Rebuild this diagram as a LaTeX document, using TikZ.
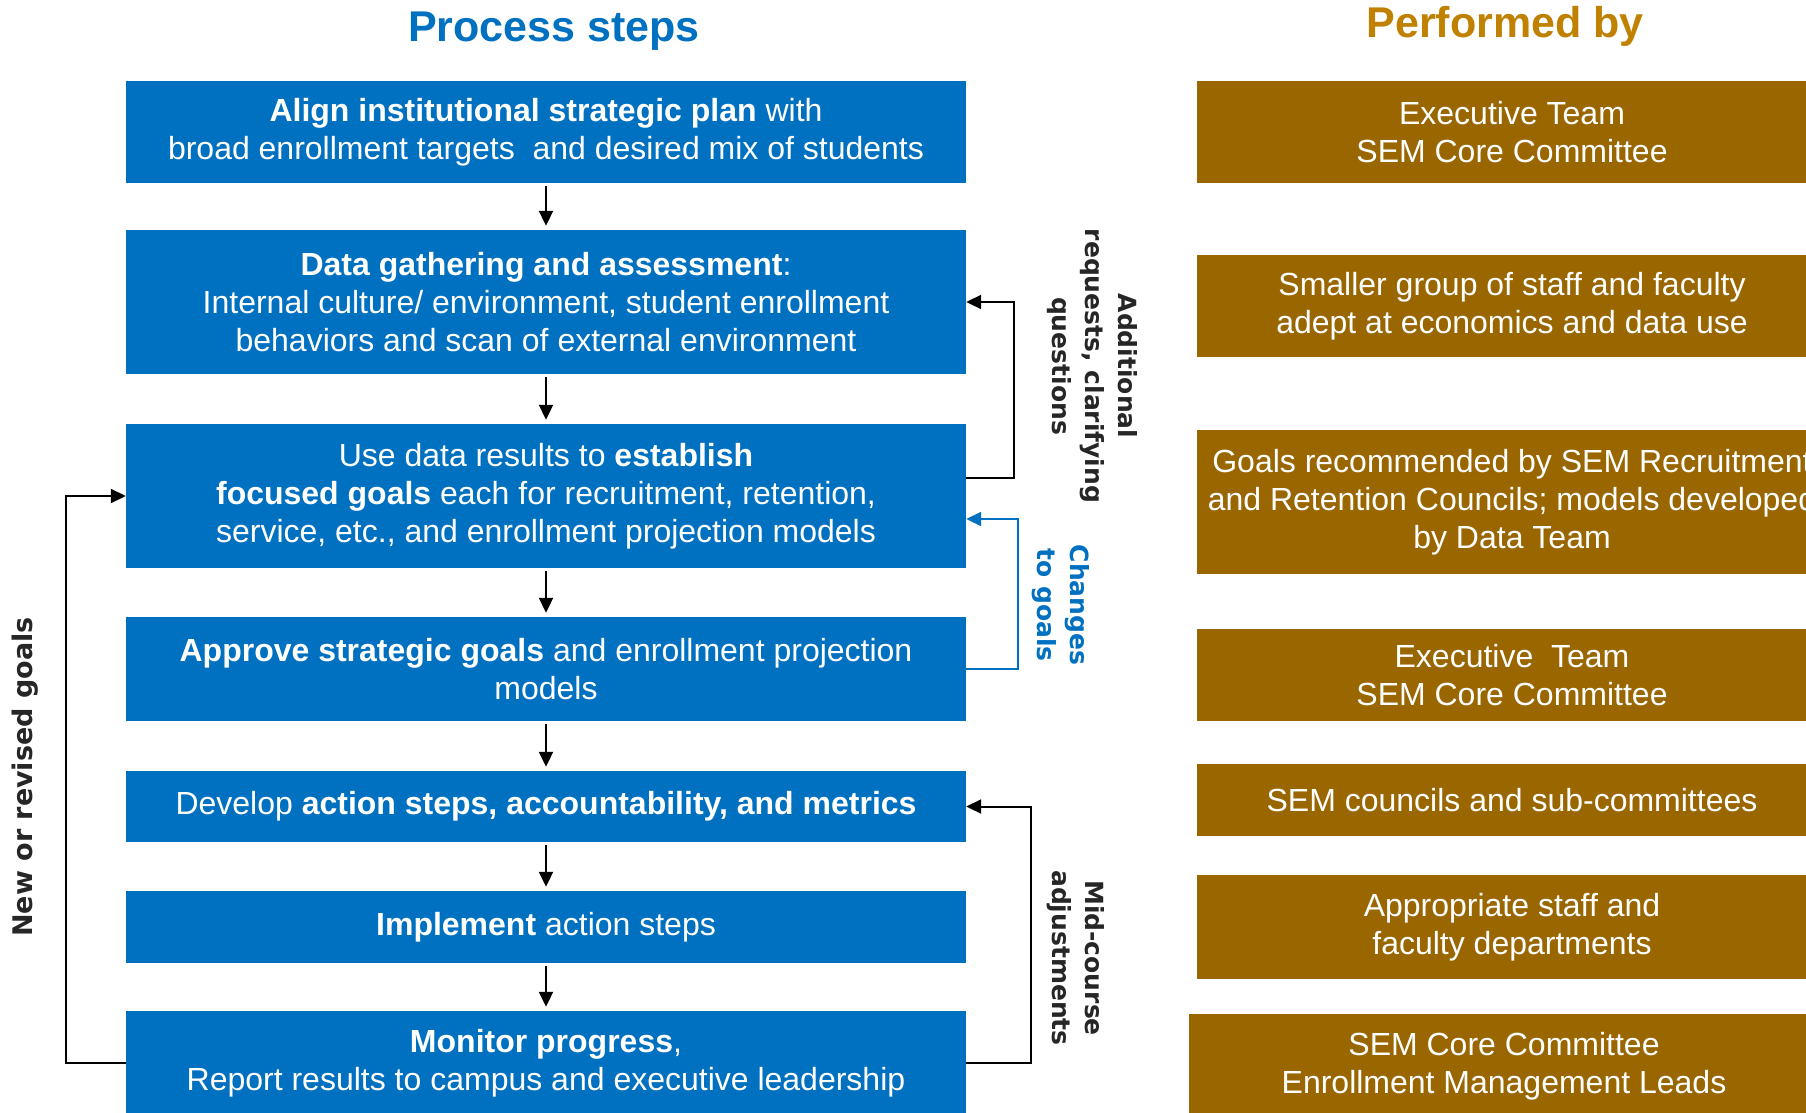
\documentclass[tikz,border=0pt]{standalone}
\usepackage{fontspec}
\setmainfont{Liberation Sans}
\newfontfamily\sidefont{DejaVu Sans}
\usetikzlibrary{arrows.meta}
\definecolor{stepblue}{RGB}{0,112,192}
\definecolor{whobrown}{RGB}{153,102,0}
\definecolor{whogold}{RGB}{192,128,0}
\definecolor{notegray}{RGB}{38,38,38}
\tikzset{
  stepbox/.style={fill=stepblue, text=white, align=center, minimum width=840pt, inner sep=0pt, font=\fontsize{32}{38}\selectfont},
  whobox/.style={fill=whobrown, text=white, align=center, minimum width=630pt, inner sep=0pt, font=\fontsize{32}{38}\selectfont},
  flow/.style={line width=2pt, -{Triangle[length=15pt,width=14pt]}},
  down/.style={flow, shorten <=3pt, shorten >=4pt},
  note/.style={text=notegray, align=center, font=\sidefont\bfseries\fontsize{25}{33}\selectfont},
  heading/.style={anchor=base, font=\bfseries\fontsize{43}{50}\selectfont}
}

\begin{document}
\begin{tikzpicture}[x=1pt,y=-1pt]
            \useasboundingbox (0,0) rectangle (1806,1113);
            \node [heading, text=stepblue] (steptitle) at (554,42) {Process steps};
            \node [heading, text=whogold] (whotitle) at (1505,38) {Performed by};

            \node [stepbox, minimum height=102pt] (align) at (546,132) {\textbf{Align institutional strategic plan} with\\broad enrollment targets\ \ and desired mix of students};
            \node [stepbox, minimum height=144pt] (data) at (546,302) {\textbf{Data gathering and assessment}:\\Internal culture/ environment, student enrollment\\behaviors and scan of external environment};
            \node [stepbox, minimum height=144pt] (goals) at (546,496) {Use data results to \textbf{establish}\\\textbf{focused goals} each for recruitment, retention,\\service, etc., and enrollment projection models};
            \node [stepbox, minimum height=104pt] (approve) at (546,669) {\textbf{Approve strategic goals} and enrollment projection\\models};
            \node [stepbox, minimum height=71pt] (develop) at (546,806.5) {Develop \textbf{action steps, accountability, and metrics}};
            \node [stepbox, minimum height=72pt] (implement) at (546,927) {\textbf{Implement} action steps};
            \node [stepbox, minimum height=104pt] (monitor) at (546,1063) {\textbf{Monitor progress},\\Report results to campus and executive leadership};

            \node [whobox, minimum height=102pt] (who1) at (1512,132) {Executive Team\\SEM Core Committee};
            \node [whobox, minimum height=102pt] (who2) at (1512,306) {Smaller group of staff and faculty\\adept at economics and data use};
            \node [whobox, minimum height=144pt] (who3) at (1512,502) {Goals recommended by SEM Recruitment\\and Retention Councils; models developed\\by Data Team};
            \node [whobox, minimum height=92pt] (who4) at (1512,675) {Executive\ \ Team\\SEM Core Committee};
            \node [whobox, minimum height=72pt] (who5) at (1512,800) {SEM councils and sub-committees};
            \node [whobox, minimum height=104pt] (who6) at (1512,927) {Appropriate staff and\\faculty departments};
            \node [whobox, minimum height=104pt] (who7) at (1504,1066) {SEM Core Committee\\Enrollment Management Leads};

            \draw [down] (align) -- (data);
            \draw [down] (data) -- (goals);
            \draw [down] (goals) -- (approve);
            \draw [down] (approve) -- (develop);
            \draw [down] (develop) -- (implement);
            \draw [down] (implement) -- (monitor);

            \draw [flow] ([yshift=18pt]goals.east) -- ++(48,0) |- (data.east);
            \draw [flow, color=stepblue, line width=1.8pt] (approve.east) -- ++(52,0) |- ([yshift=-23pt]goals.east);
            \draw [flow] (monitor.east) -- ++(65,0) |- (develop.east);
            \draw [flow] (monitor.west) -- ++(-60,0) |- (goals.west);

            \node [note, rotate=-90] (askmore) at (1092,366) {Additional\\requests, clarifying\\questions};
            \node [note, rotate=-90, text=stepblue] (change) at (1061,605) {Changes\\to goals};
            \node [note, rotate=-90] (midcourse) at (1076,958) {Mid-course\\adjustments};
            \node [note, rotate=90, font=\sidefont\bfseries\fontsize{27}{33}\selectfont] (newgoals) at (25,777) {New or revised goals};
        \end{tikzpicture}
\end{document}
